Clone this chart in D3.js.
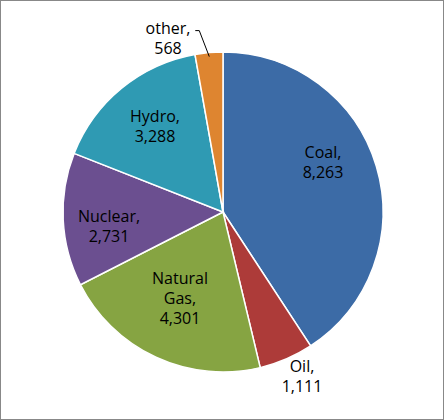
<!DOCTYPE html>
<html><head><meta charset="utf-8">
<script src="https://cdn.jsdelivr.net/npm/d3@7"></script>
<style>body{margin:0;background:#fff}</style></head>
<body><svg id="c" width="444" height="420"></svg>
<script>
const categories = ["Coal","Oil","Natural Gas","Nuclear","Hydro","other"];
const values = [8263,1111,4301,2731,3288,568];
const valueLabels = ["8,263","1,111","4,301","2,731","3,288","568"];
const colors = ["#3C6BA6","#AD3B39","#86A442","#6B4F90","#2F9AB3","#DE8530"];
// label lines and anchors (layout)
const labelLines = [["Coal,","8,263"],["Oil,","1,111"],["Natural","Gas,","4,301"],["Nuclear,","2,731"],["Hydro,","3,288"],["other,","568"]];
const labelPos = [[323,162],[302,376],[180,298],[109,226],[155,126],[168,38]];

const svg = d3.select("#c");
svg.append("rect").attr("x",0.5).attr("y",0.5).attr("width",443).attr("height",419)
  .attr("fill","#fff").attr("stroke","#888");
const cx=223, cy=212, r=160;
const pie = d3.pie().sort(null).value(d=>d)(values);
const arc = d3.arc().innerRadius(0).outerRadius(r);
const g = svg.append("g").attr("transform",`translate(${cx},${cy})`);
g.selectAll("path").data(pie).join("path").attr("d",arc)
  .attr("fill",(d,i)=>colors[i]).attr("stroke","#fff").attr("stroke-width",1.5);
// leader line for "other"
const o = pie[5]; const mid=(o.startAngle+o.endAngle)/2;
const px = cx + Math.sin(mid)*(r-4), py = cy - Math.cos(mid)*(r-4);
svg.append("polyline").attr("points",`${px},${py} ${px-10},${py-26} ${px-14},${py-26}`)
  .attr("fill","none").attr("stroke","#000").attr("stroke-width",1);
labelLines.forEach((lines,i)=>{
  const [x,y]=labelPos[i];
  const t = svg.append("text").attr("x",x).attr("y",y-(lines.length-1)*10+6)
    .attr("text-anchor","middle").attr("font-family","'Open Sans', sans-serif").attr("font-size",16)
    .attr("fill","#000");
  lines.forEach((l,j)=>t.append("tspan").attr("x",x).attr("dy",j?20:0).text(l));
});
</script></body></html>
